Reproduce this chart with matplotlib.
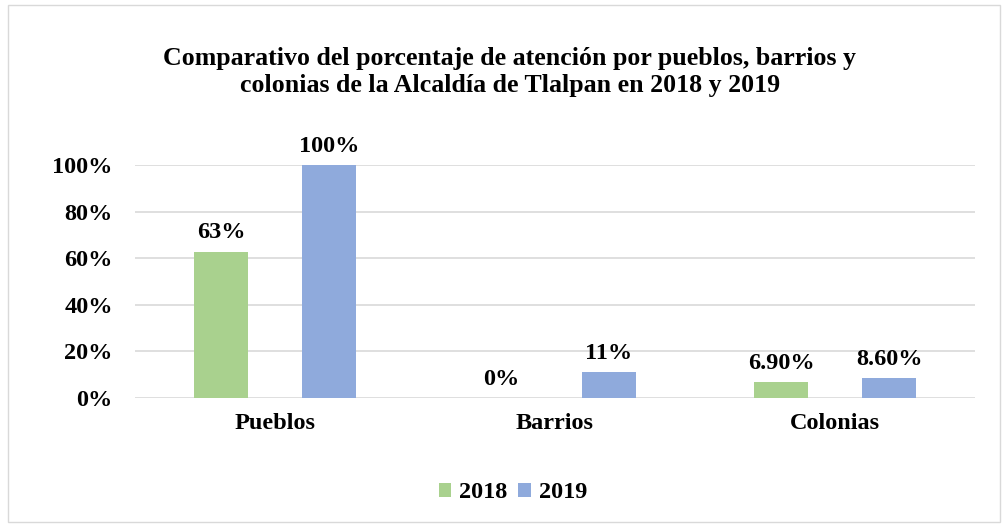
import numpy as np
import matplotlib
matplotlib.use("Agg")
import matplotlib.pyplot as plt
from matplotlib.patches import Rectangle

categories = ["Pueblos", "Barrios", "Colonias"]
years = ["2018", "2019"]
vals_2018 = [0.628, 0.0, 0.069]
vals_2019 = [1.0, 0.11, 0.086]
labels_2018 = ["63%", "0%", "6.90%"]
labels_2019 = ["100%", "11%", "8.60%"]
yticks = [0, 0.2, 0.4, 0.6, 0.8, 1.0]
ytick_labels = ["0%", "20%", "40%", "60%", "80%", "100%"]

GREEN, BLUE, GRID = "#A9D18E", "#8FAADC", "#D9D9D9"
plt.rcParams["font.family"] = ["Liberation Serif", "DejaVu Serif"]
plt.rcParams["font.weight"] = "bold"
FS = 17.5

fig = plt.figure(figsize=(10.03, 5.27), dpi=100)
fig.patches.append(Rectangle((8 / 1003, 5 / 527), 992 / 1003, 517 / 527, transform=fig.transFigure,
                             fill=False, edgecolor=GRID, lw=1))
ax = fig.add_axes([135 / 1003, 1 - 398 / 527, 840 / 1003, 233 / 527])

x = np.arange(len(categories))
w = 0.193
b1 = ax.bar(x - w, vals_2018, w, color=GREEN, label=years[0])
b2 = ax.bar(x + w, vals_2019, w, color=BLUE, label=years[1])
for bars, labs in [(b1, labels_2018), (b2, labels_2019)]:
    for r, t in zip(bars, labs):
        ax.annotate(t, (r.get_x() + r.get_width() / 2, r.get_height()), xytext=(0, 6),
                    textcoords="offset points", ha="center", va="bottom",
                    fontsize=FS, fontweight="bold", annotation_clip=False)

ax.set_xlim(-0.5, 2.5); ax.set_ylim(0, 1.0)
ax.set_yticks(yticks); ax.set_yticklabels(ytick_labels)
ax.set_xticks(x); ax.set_xticklabels(categories)
ax.tick_params(length=0, labelsize=FS)
ax.tick_params(axis="x", pad=11)
ax.tick_params(axis="y", pad=16)
ax.yaxis.grid(True, color=GRID, lw=1.2); ax.set_axisbelow(True)
for s in ax.spines.values():
    s.set_visible(False)

fig.text(510 / 1003, 1 - 72 / 527, "Comparativo del porcentaje de atención por pueblos, barrios y\n"
         "colonias de la Alcaldía de Tlalpan en 2018 y 2019",
         ha="center", va="center", fontsize=18.6, fontweight="bold", linespacing=1.2)
fig.legend(loc="center", bbox_to_anchor=(513 / 1003, 1 - 493 / 527), ncol=2, frameon=False,
           fontsize=FS, handlelength=0.5, handleheight=0.5, handletextpad=0.35, columnspacing=0.45)

fig.savefig("out.png", dpi=100)
